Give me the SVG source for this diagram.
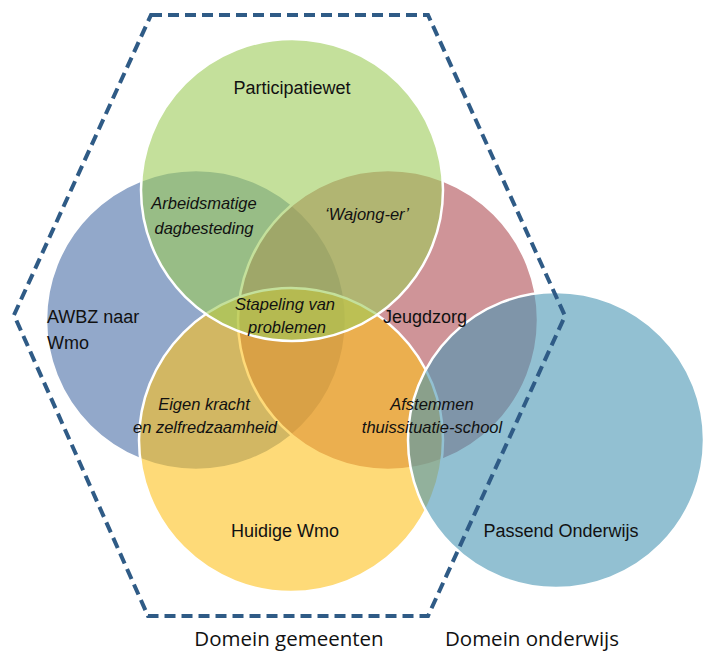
<svg xmlns="http://www.w3.org/2000/svg" width="706" height="653" viewBox="0 0 706 653">
<style>
.c{stroke:#ffffff;stroke-width:2.5;fill-opacity:0.6}
.t{font-family:"Liberation Sans",Arial,sans-serif;font-size:18px;fill:#111111}
.i{font-family:"Liberation Sans",Arial,sans-serif;font-size:16.5px;font-style:italic;fill:#111111;text-anchor:middle}
.d{font-family:"Open Sans","Liberation Sans",sans-serif;font-size:20.5px;fill:#111111;text-anchor:middle}
.m{text-anchor:middle}
</style>
<rect width="706" height="653" fill="#ffffff"/>
<g id="awbz"><circle class="c" cx="196" cy="320" r="150" fill="#496ea6"/></g>
<g id="jeugdzorg"><circle class="c" cx="388" cy="320" r="150" fill="#af4d53"/></g>
<g id="huidige-wmo"><circle class="c" cx="291" cy="440" r="152" fill="#fdc11e"/></g>
<g id="participatiewet"><circle class="c" cx="292" cy="190" r="151" fill="#9dcb58"/></g>
<g id="passend-onderwijs"><circle class="c" cx="556" cy="440" r="148" fill="#4996b4"/></g>
<g id="connectors">
<polygon points="151,15 428,15 565,316 428,616 148,616 14,315" fill="none" stroke="#2f5b86" stroke-width="4" stroke-dasharray="11 6"/>
</g>
<g id="labels">
<text class="t m" x="292" y="94">Participatiewet</text>
<text class="t" x="47" y="323">AWBZ naar</text>
<text class="t" x="47" y="349">Wmo</text>
<text class="t" x="383" y="323">Jeugdzorg</text>
<text class="t m" x="285" y="537">Huidige Wmo</text>
<text class="t m" x="561" y="537">Passend Onderwijs</text>
<text class="i" x="204" y="209">Arbeidsmatige</text>
<text class="i" x="204" y="234">dagbesteding</text>
<text class="i" x="367" y="220">‘Wajong-er’</text>
<text class="i" x="285" y="310">Stapeling van</text>
<text class="i" x="287" y="333">problemen</text>
<text class="i" x="204" y="410">Eigen kracht</text>
<text class="i" x="205" y="433">en zelfredzaamheid</text>
<text class="i" x="432" y="410">Afstemmen</text>
<text class="i" x="432" y="433">thuissituatie-school</text>
<text class="d" x="289" y="646">Domein gemeenten</text>
<text class="d" x="532" y="646">Domein onderwijs</text>
</g>
</svg>
